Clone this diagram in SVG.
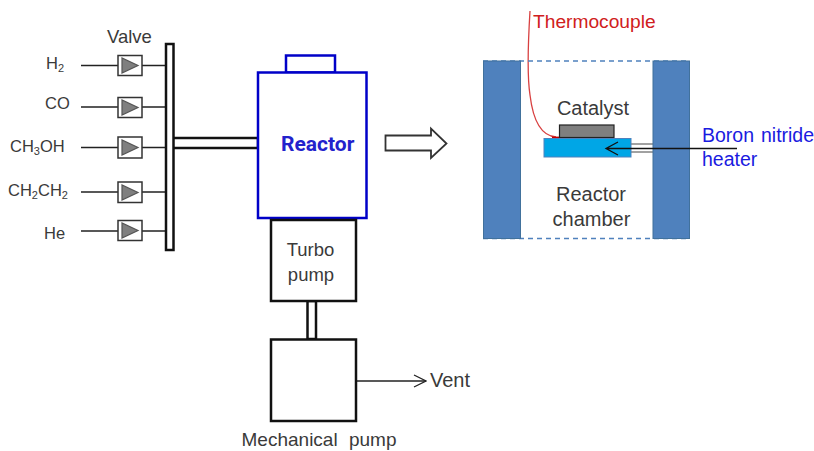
<svg xmlns="http://www.w3.org/2000/svg" width="814" height="451" viewBox="0 0 814 451">
<defs>
<style>
text{font-family:"Liberation Sans",Arial,sans-serif;font-size:16.500px;fill:#3a3a3a}
.sub{font-size:11px}
.box{fill:#fff;stroke:#111;stroke-width:2.500}
.valve{fill:#fff;stroke:#333;stroke-width:1.500}
.tri{fill:#7f7f7f;stroke:#555;stroke-width:1.200}
.ln{fill:none;stroke:#222;stroke-width:1.300}
.wall{fill:#4f81bd;stroke:#41719c;stroke-width:1}
.blue{fill:#fff;stroke:#0000c8;stroke-width:2.500}
.m{font-size:18.500px}
.l{font-size:20px}
.b{font-size:19.500px;fill:#1a1ae0;word-spacing:1.500px}
</style>
<marker id="open" viewBox="0 0 14 14" refX="13" refY="7" markerWidth="14" markerHeight="14" markerUnits="userSpaceOnUse" orient="auto"><path d="M1 1L13 7L1 13" fill="none" stroke="#222" stroke-width="1.300"/></marker>
</defs>
<g id="connectors">
<path class="ln" d="M81 65.500H165M81 107H165M81 147.500H165M81 192H165M81 231H165"/>
<path class="box" d="M174 138H258V148H174"/>
<rect class="box" x="307.500" y="301" width="8.500" height="38"/>
<path class="ln" d="M356 381H426" marker-end="url(#open)"/>
<path fill="none" stroke="#444" stroke-width="1" d="M631 144H653M631 152H653"/>
<path fill="none" stroke="#d84040" stroke-width="1.300" d="M530 11C527 60 528 82 530 95C533 120 541 136 556 137"/>
<path fill="none" stroke="#c00000" stroke-width="1.800" d="M552 137.500H573"/>
</g>
<g id="header"><rect class="box" x="166" y="44" width="7.500" height="206"/></g>
<g id="valve-h2"><rect class="valve" x="118" y="55.500" width="24" height="20"/><path class="tri" d="M122 58V73L138 65.500Z"/><text x="46" y="69">H<tspan class="sub" dy="3">2</tspan></text></g>
<g id="valve-co"><rect class="valve" x="118" y="97.500" width="24" height="20"/><path class="tri" d="M122 100V115L138 107.500Z"/><text x="45" y="109">CO</text></g>
<g id="valve-ch3oh"><rect class="valve" x="118" y="137" width="24" height="21"/><path class="tri" d="M122 140V155L138 147.500Z"/><text x="10" y="152">CH<tspan class="sub" dy="3">3</tspan><tspan dy="-3">OH</tspan></text></g>
<g id="valve-ch2ch2"><rect class="valve" x="118" y="182" width="24" height="20.500"/><path class="tri" d="M122 185V200L138 192.500Z"/><text x="8" y="196">CH<tspan class="sub" dy="3">2</tspan><tspan dy="-3">CH</tspan><tspan class="sub" dy="3">2</tspan></text></g>
<g id="valve-he"><rect class="valve" x="118" y="220.500" width="24" height="20"/><path class="tri" d="M122 223V238L138 230.500Z"/><text x="44" y="239">He</text></g>
<text x="107" y="43" class="m">Valve</text>
<g id="reactor"><rect class="blue" x="286" y="55.500" width="49" height="17"/><rect class="blue" x="258" y="72.500" width="108.500" height="145.500"/><text x="281" y="151" style="font-size:21px;font-weight:bold;fill:#2222cc;font-family:Roboto,'Liberation Sans',sans-serif">Reactor</text></g>
<g id="turbo"><rect class="box" x="271" y="220" width="85" height="81"/><text x="310.500" y="256" text-anchor="middle" class="m">Turbo</text><text x="311" y="281" text-anchor="middle" class="m">pump</text></g>
<g id="mech"><rect class="box" x="271" y="339.500" width="85" height="81.500"/><text x="319" y="446" text-anchor="middle" style="font-size:19px;word-spacing:6px">Mechanical pump</text></g>
<text x="430" y="387" class="l">Vent</text>
<g id="big-arrow"><path fill="#fff" stroke="#333" stroke-width="1.800" d="M385.500 135.500H431V128.500L446.500 143.500L431 158V150.500H385.500Z"/></g>
<g id="chamber">
<path fill="none" stroke="#4f81bd" stroke-width="1.300" stroke-dasharray="5 4" d="M483 61H689M483 238.500H689"/>
<rect class="wall" x="483.500" y="61" width="37" height="177.500"/>
<rect class="wall" x="653" y="61" width="36.500" height="177.500"/>
<text x="593" y="115" text-anchor="middle" class="l">Catalyst</text>
<text x="591" y="201" text-anchor="middle" class="l">Reactor</text>
<text x="591.500" y="226" text-anchor="middle" class="l">chamber</text>
</g>
<g id="catalyst"><rect x="559.500" y="125" width="54.500" height="12.500" fill="#7f7f7f" stroke="#222" stroke-width="1.200"/></g>
<g id="heater"><rect x="544" y="138.500" width="87" height="18.500" fill="#00a6e6" stroke="#4f81bd" stroke-width="1"/>
<path fill="none" stroke="#111" stroke-width="1.300" d="M737 148.500H607M618 142L606 148.500L618 155"/>
<text x="702" y="142" class="b">Boron nitride</text><text x="702" y="166" class="b">heater</text></g>
<text x="533" y="28" style="font-size:19.200px;fill:#d02020">Thermocouple</text>
</svg>
